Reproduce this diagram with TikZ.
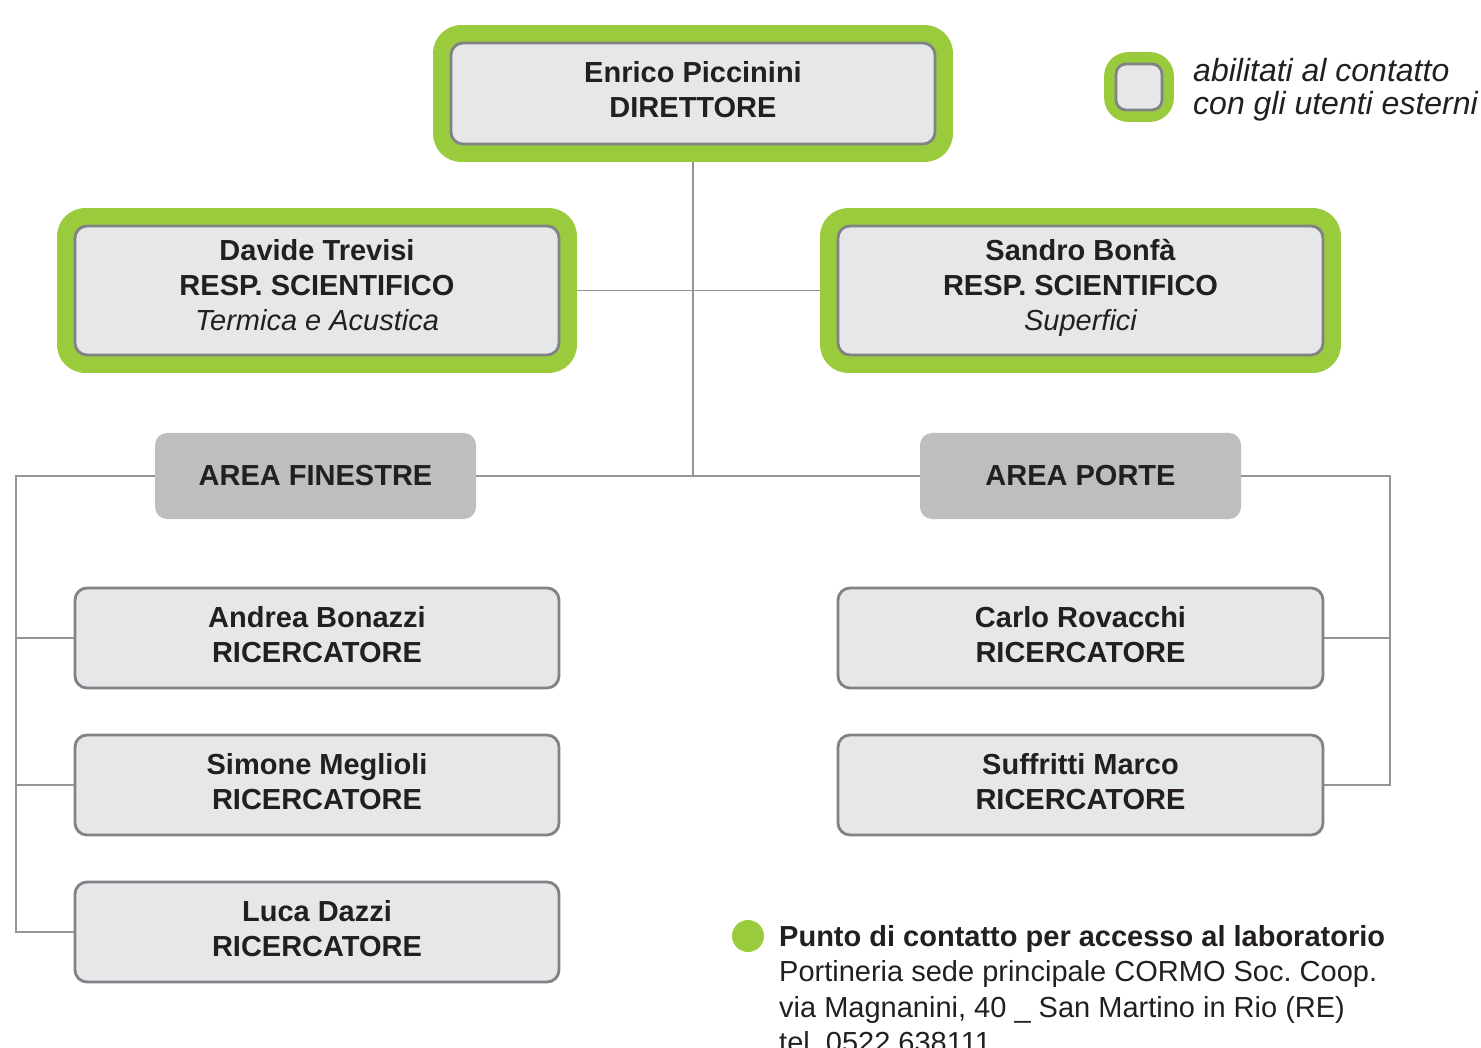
\documentclass[tikz,border=0pt]{standalone}
\usepackage{fontspec}
\setmainfont{Liberation Sans}
\usetikzlibrary{fit,backgrounds}
\definecolor{ggreen}{RGB}{154,203,60}
\definecolor{boxfill}{RGB}{230,231,232}
\definecolor{boxline}{RGB}{128,130,133}
\definecolor{areafill}{RGB}{188,190,192}
\definecolor{connline}{RGB}{147,149,152}
\definecolor{txt}{RGB}{35,31,32}
\frenchspacing
\begin{document}
\begin{tikzpicture}[x=1pt,y=-1pt,
  person/.style={draw=boxline, line width=2.8pt, fill=boxfill, rounded corners=12pt,
    inner sep=0pt, align=center, text=txt, font=\fontsize{29}{35}\selectfont\bfseries},
  lift/.style={execute at end node={\rule[-#1]{0pt}{#1}}},
  areabox/.style={fill=areafill, rounded corners=12pt, minimum width=321pt, minimum height=86pt,
    inner sep=0pt, text=txt, font=\fontsize{29}{35}\selectfont\bfseries},
  contact/.style={fill=ggreen, rounded corners=28pt, inner sep=16.5pt},
  conn/.style={draw=connline, line width=1.5pt}]
\useasboundingbox (0,0) rectangle (1481,1048);

% main boxes
\node[person, lift=8pt, minimum width=484pt, minimum height=101pt] (dir) at (693,93.5)
  {Enrico Piccinini\\DIRETTORE};
\node[person, lift=12pt, minimum width=484pt, minimum height=129pt] (dav) at (317,290.5)
  {Davide Trevisi\\RESP. SCIENTIFICO\\{\mdseries\itshape Termica e Acustica}};
\node[person, lift=12pt, minimum width=485pt, minimum height=129pt] (san) at (1080.5,290.5)
  {Sandro Bonfà\\RESP. SCIENTIFICO\\{\mdseries\itshape Superfici}};

% legend
\node[person, minimum width=46pt, minimum height=46pt, rounded corners=10pt] (leg) at (1139,87) {};
\node[anchor=west, align=left, inner sep=0pt, text=txt, font=\fontsize{32}{33}\selectfont\itshape]
  (legtxt) at (1193,90) {abilitati al contatto\\con gli utenti esterni};

% green frames
\begin{scope}[on background layer]
  \node[contact, fit=(dir)] (dirG) {};
  \node[contact, fit=(dav)] (davG) {};
  \node[contact, fit=(san)] (sanG) {};
  \node[contact, fit=(leg), inner sep=10.5pt, rounded corners=24pt] (legG) {};
\end{scope}

% areas
\node[areabox] (fin) at (315.5,476) {AREA FINESTRE};
\node[areabox] (por) at (1080.5,476) {AREA PORTE};

% researchers
\node[person, lift=7pt, minimum width=484pt, minimum height=100pt] (and) at (317,638)
  {Andrea Bonazzi\\RICERCATORE};
\node[person, lift=7pt, minimum width=484pt, minimum height=100pt] (sim) at (317,785)
  {Simone Meglioli\\RICERCATORE};
\node[person, lift=7pt, minimum width=484pt, minimum height=100pt] (luc) at (317,932)
  {Luca Dazzi\\RICERCATORE};
\node[person, lift=7pt, minimum width=485pt, minimum height=100pt] (car) at (1080.5,638)
  {Carlo Rovacchi\\RICERCATORE};
\node[person, lift=7pt, minimum width=485pt, minimum height=100pt] (suf) at (1080.5,785)
  {Suffritti Marco\\RICERCATORE};

% connectors
\coordinate (lcorner) at (16,476);
\coordinate (rcorner) at (1390,476);
\draw[conn] (dirG.south) -- (dirG.south |- fin.east);
\draw[conn] (davG.east) -- (sanG.west);
\draw[conn] (fin.east) -- (por.west);
\draw[conn] (fin.west) -- (lcorner) -- (lcorner |- luc.west) -- (luc.west);
\draw[conn] (lcorner |- and.west) -- (and.west);
\draw[conn] (lcorner |- sim.west) -- (sim.west);
\draw[conn] (por.east) -- (rcorner) -- (rcorner |- suf.east) -- (suf.east);
\draw[conn] (rcorner |- car.east) -- (car.east);

% contact info
\node[circle, fill=ggreen, minimum size=32pt, inner sep=0pt] (bullet) at (748,936) {};
\node[anchor=north west, align=left, inner sep=0pt, text=txt, font=\fontsize{29}{35.5}\selectfont]
  (info) at (779,925)
  {\textbf{Punto di contatto per accesso al laboratorio}\\
   Portineria sede principale CORMO Soc. Coop.\\
   via Magnanini, 40 \_ San Martino in Rio (RE)\\
   tel. 0522 638111};
\end{tikzpicture}
\end{document}
